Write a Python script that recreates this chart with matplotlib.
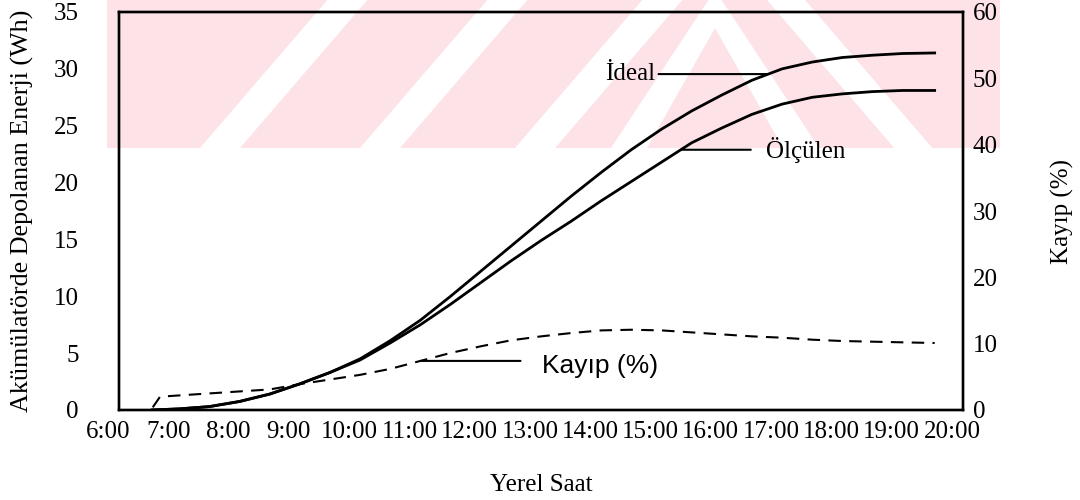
import matplotlib
matplotlib.use("Agg")
import matplotlib.pyplot as plt
import numpy as np
from matplotlib.patches import Polygon
from matplotlib.transforms import ScaledTranslation

# hours of day (decimal) and readings
hours_energy = [6.55, 7.0, 7.5, 8.0, 8.5, 9.0, 9.5, 10.0, 10.5, 11.0, 11.5, 12.0, 12.5,
                13.0, 13.5, 14.0, 14.5, 15.0, 15.5, 16.0, 16.5, 17.0, 17.5, 18.0,
                18.5, 19.0, 19.53]
ideal_wh = [0.0, 0.1, 0.3, 0.75, 1.4, 2.3, 3.3, 4.5, 6.1, 7.9, 10.0, 12.2, 14.4,
            16.6, 18.8, 20.9, 22.9, 24.7, 26.3, 27.7, 29.0, 30.0, 30.6, 31.0,
            31.2, 31.35, 31.4]
measured_wh = [0.0, 0.1, 0.3, 0.75, 1.4, 2.3, 3.3, 4.4, 5.9, 7.5, 9.3, 11.2, 13.1,
               14.9, 16.6, 18.4, 20.1, 21.8, 23.5, 24.8, 26.0, 26.9, 27.5, 27.8,
               28.0, 28.1, 28.1]

hours_loss = [6.56, 6.68, 7.0, 7.5, 8.0, 8.5, 9.0, 9.5, 10.0, 10.5, 11.0, 11.5, 12.0,
              12.5, 13.0, 13.5, 14.0, 14.5, 15.0, 15.5, 16.0, 16.5, 17.0, 17.5,
              18.0, 18.5, 19.0, 19.53]
loss_pct = [0.4, 2.0, 2.2, 2.5, 2.8, 3.1, 3.9, 4.6, 5.3, 6.2, 7.4, 8.6, 9.6,
            10.5, 11.1, 11.6, 12.0, 12.1, 12.0, 11.7, 11.4, 11.1, 10.9, 10.6,
            10.4, 10.3, 10.2, 10.1]

hour_ticks = list(range(6, 21))
hour_labels = [f"{h}:00" for h in hour_ticks]
energy_ticks = [0, 5, 10, 15, 20, 25, 30, 35]
loss_ticks = [0, 10, 20, 30, 40, 50, 60]

SERIF = ["Liberation Serif", "DejaVu Serif"]
SANS = ["Liberation Sans", "DejaVu Sans"]
FS = 18

W, H = 1080, 500
fig = plt.figure(figsize=(W / 100, H / 100), dpi=100)


def px(x, y):
    """pixel position (y from top) -> figure fraction"""
    return (x / W, 1 - y / H)


# background watermark band
wm_pink = "#fde3e7"
band = [(107, 0), (1000, 0), (1000, 148), (107, 148)]
fig.patches.append(Polygon([px(*p) for p in band], closed=True, transform=fig.transFigure,
                           facecolor=wm_pink, edgecolor="none", zorder=-5))
slope = 0.86
stripes = []
for x0 in (200, 360, 515):
    stripes.append([(x0, 148), (x0 + 40, 148), (x0 + 40 + slope * 148, 0), (x0 + slope * 148, 0)])
apex_x, apex_y = 715, 48
arm = slope * (148 - apex_y)
stripes.append([(apex_x - arm - 18, 148), (apex_x - arm + 18, 148), (apex_x, apex_y - 20),
                (apex_x + arm - 18, 148), (apex_x + arm + 18, 148), (apex_x, apex_y - 58)])
stripes.append([(767, 0), (805, 0), (805 + slope * 148, 148), (767 + slope * 148, 148)])
for s in stripes:
    fig.patches.append(Polygon([px(*p) for p in s], closed=True, transform=fig.transFigure,
                               facecolor="white", edgecolor="none", zorder=-4))

ax = fig.add_axes([119 / W, 1 - 410 / H, (963 - 119) / W, (410 - 12) / H])
ax.patch.set_visible(False)
ax2 = ax.twinx()
ax2.patch.set_visible(False)

ax.plot(hours_energy, ideal_wh, color="black", lw=2.0, solid_joinstyle="round")
ax.plot(hours_energy, measured_wh, color="black", lw=2.0, solid_joinstyle="round")
ax2.plot(hours_loss, loss_pct, color="black", lw=1.5, dashes=(6, 4))

ax.set_xlim(6, 20)
ax.set_ylim(0, 35)
ax2.set_ylim(0, 60)

ax.set_xticks(hour_ticks, hour_labels)
ax.set_yticks(energy_ticks)
ax2.set_yticks(loss_ticks)

for a in (ax, ax2):
    for sp in a.spines.values():
        sp.set_linewidth(1.7)
        sp.set_color("black")

ax.tick_params(axis="x", length=0, pad=8, labelsize=FS)
ax.tick_params(axis="y", length=0, pad=29, labelsize=FS)
ax2.tick_params(axis="y", length=0, pad=7, labelsize=FS)
for lbl in ax.get_xticklabels() + ax.get_yticklabels() + ax2.get_yticklabels():
    lbl.set_fontfamily(SERIF)
shift = ScaledTranslation(-11 / 100, 0, fig.dpi_scale_trans)
for lbl in ax.get_xticklabels():
    lbl.set_transform(lbl.get_transform() + shift)

ax.set_xlabel("Yerel Saat", family=SERIF, fontsize=FS, labelpad=22)
ax.set_ylabel("Akümülatörde Depolanan Enerji (Wh)", family=SERIF, fontsize=18.8, labelpad=14)
ax2.set_ylabel("Kayıp (%)", family=SERIF, fontsize=FS, rotation=90, labelpad=38)

# curve callouts
t_ideal = 16.77
y_ideal = np.interp(t_ideal, hours_energy, ideal_wh)
ax.annotate("", xy=(t_ideal, y_ideal), xytext=(14.95, y_ideal),
            arrowprops=dict(arrowstyle="-", color="black", lw=1.5, shrinkA=0, shrinkB=0))
ax.text(14.9, y_ideal, "İdeal", family=SERIF, fontsize=FS, ha="right", va="center")

t_meas = 15.32
y_meas = np.interp(t_meas, hours_energy, measured_wh)
ax.annotate("", xy=(t_meas, y_meas), xytext=(16.48, y_meas),
            arrowprops=dict(arrowstyle="-", color="black", lw=1.5, shrinkA=0, shrinkB=0))
ax.text(16.73, y_meas, "Ölçülen", family=SERIF, fontsize=FS, ha="left", va="center")

t_loss = 11.0
y_loss = np.interp(t_loss, hours_loss, loss_pct)
ax2.annotate("", xy=(t_loss, y_loss), xytext=(12.66, y_loss),
             arrowprops=dict(arrowstyle="-", color="black", lw=1.5, shrinkA=0, shrinkB=0))
ax2.text(13.02, y_loss - 0.8, "Kayıp (%)", family=SANS, fontsize=19, ha="left", va="center")

fig.savefig("out.png", dpi=100)
